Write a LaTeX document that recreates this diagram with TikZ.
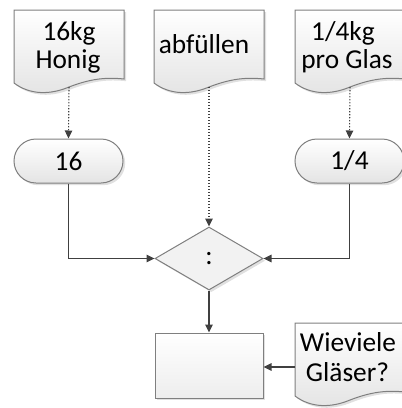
\documentclass[tikz,border=0pt]{standalone}
\usepackage{fontspec}
\setmainfont{Carlito}
\usetikzlibrary{arrows.meta,shadows,shapes.geometric}
\definecolor{border}{HTML}{7F7F7F}
\definecolor{conn}{HTML}{404040}
\definecolor{fillbot}{HTML}{E4E4E4}
\definecolor{diafill}{HTML}{F2F2F2}
\def\px{0.75pt}
\tikzset{
  shad/.style={drop shadow={shadow xshift=2.2*\px, shadow yshift=-2.2*\px, fill=gray!45, opacity=0.55}},
  shapeline/.style={draw=border, line width=1*\px},
  docstyle/.style={shapeline, top color=white, bottom color=fillbot, shad},
  term/.style={shapeline, top color=white, bottom color=fillbot, shad, rounded corners=22*\px,
    minimum width=109*\px, minimum height=44*\px, inner sep=0pt, font=\fontsize{20.5}{21}\selectfont},
  dec/.style={diamond, shapeline, fill=diafill, shad, minimum width=108*\px, minimum height=63*\px,
    aspect=1.71, inner sep=0pt, font=\fontsize{20.5}{21}\selectfont},
  proc/.style={rectangle, shapeline, top color=white, bottom color=gray!14, shad,
    minimum width=108*\px, minimum height=65*\px, inner sep=0pt},
  txt/.style={inner sep=0pt, anchor=base, font=\fontsize{20.5}{21}\selectfont},
  arr/.style={draw=conn, line width=1.1*\px, -{Triangle[length=8*\px, width=7.5*\px]}},
  dotarr/.style={arr, dash pattern=on 1.4*\px off 1.6*\px},
}
\newcommand{\docpath}[2]{(#1,#2) -- (#1,{#2+73}) .. controls ({#1+16},{#2+85}) and ({#1+36},{#2+85}) .. ({#1+55},{#2+77}) .. controls ({#1+76},{#2+69}) and ({#1+91},{#2+67}) .. ({#1+110},{#2+69}) -- ({#1+110},#2) -- cycle}
\begin{document}
\begin{tikzpicture}[x=0.75pt, y=-0.75pt]
\useasboundingbox (0,0) rectangle (401,408);
% documents
\path[docstyle] \docpath{14}{10};
\coordinate (d1b) at (69,87);
\path[docstyle] \docpath{154}{10};
\coordinate (d2b) at (209,87);
\path[docstyle] \docpath{295}{10};
\coordinate (d3b) at (350,87);
\path[docstyle] \docpath{295}{323};
\coordinate (d4l) at (295,367);
% document texts
\node[txt] (t1a) at (69,40) {16kg};
\node[txt] (t1b) at (68,68) {Honig};
\node[txt] (t2a) at (204,53) {abfüllen};
\node[txt] (t3a) at (343,40) {1/4kg};
\node[txt] (t3b) at (347,68) {pro Glas};
\node[txt] (t4a) at (348,351) {Wieviele};
\node[txt] (t4b) at (347.5,381) {Gläser?};
% terminals
\node[term] (n16) at (68.5,161) {16};
\node[term] (n14) at (349.5,161) {1/4};
% decision
\node[dec] (dia) at (209,258.5) {:};
% process
\node[proc] (res) at (209,365.5) {};
% connectors
\draw[dotarr] (d1b) -- (n16.north);
\draw[dotarr] (d3b) -- (n14.north);
\draw[dotarr] (d2b) -- (dia.north);
\draw[arr] (n16.south) |- (dia.west);
\draw[arr] (n14.south) |- (dia.east);
\draw[arr] (dia.south) -- (res.north);
\draw[arr] (d4l) -- (d4l -| res.east);
\end{tikzpicture}
\end{document}
